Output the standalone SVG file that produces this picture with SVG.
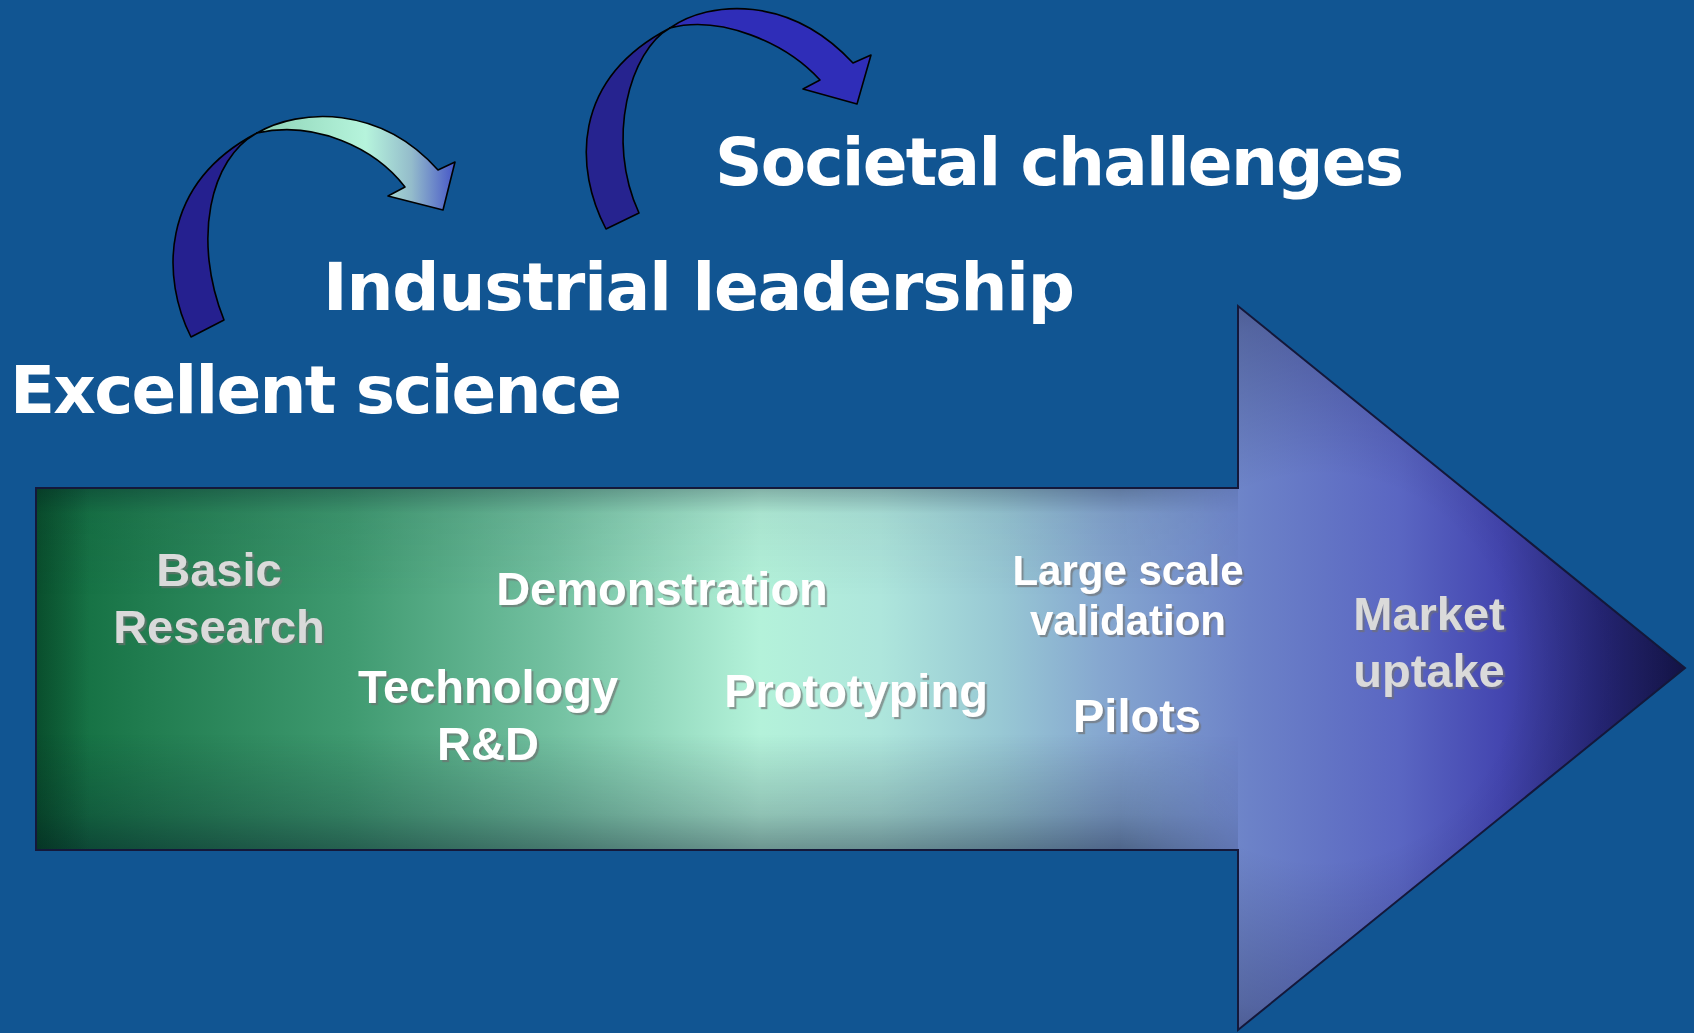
<svg xmlns="http://www.w3.org/2000/svg" width="1694" height="1033" viewBox="0 0 1694 1033">
  <defs>
    <style>
      .title { font-family: "DejaVu Sans", Verdana, sans-serif; font-weight: bold; font-size: 66px; fill: #ffffff; }
      .lbl { font-family: "Liberation Sans", Arial, sans-serif; font-weight: bold; font-size: 47px; text-anchor: middle; filter: url(#shadow); }
      .w { fill: #ffffff; }
      .g { fill: #dadada; }
      .small { font-size: 42px; }
      .ribbon { stroke: #000000; stroke-width: 1.6; stroke-linejoin: round; }
    </style>
    <filter id="shadow" x="-10%" y="-20%" width="120%" height="150%">
      <feDropShadow dx="2.2" dy="2.2" stdDeviation="0.4" flood-color="#6f6f6f" flood-opacity="0.65"/>
    </filter>
    <linearGradient id="bigGrad" gradientUnits="userSpaceOnUse" x1="36" y1="0" x2="1685" y2="0">
      <stop offset="0" stop-color="#0e6a3c"/>
      <stop offset="0.069" stop-color="#217d50"/>
      <stop offset="0.19" stop-color="#3f9a70"/>
      <stop offset="0.312" stop-color="#72c0a0"/>
      <stop offset="0.439" stop-color="#b4f2da"/>
      <stop offset="0.512" stop-color="#aee6dc"/>
      <stop offset="0.585" stop-color="#98c8d4"/>
      <stop offset="0.645" stop-color="#86a8d0"/>
      <stop offset="0.736" stop-color="#6c82c8"/>
      <stop offset="0.827" stop-color="#5a66c2"/>
      <stop offset="0.888" stop-color="#4446b0"/>
      <stop offset="0.948" stop-color="#2a2a80"/>
      <stop offset="1" stop-color="#1a1a55"/>
    </linearGradient>
    <linearGradient id="shaftShade" gradientUnits="userSpaceOnUse" x1="0" y1="488" x2="0" y2="850">
      <stop offset="0" stop-color="#000820" stop-opacity="0.28"/>
      <stop offset="0.07" stop-color="#000820" stop-opacity="0.06"/>
      <stop offset="0.3" stop-color="#000820" stop-opacity="0"/>
      <stop offset="0.68" stop-color="#000820" stop-opacity="0"/>
      <stop offset="0.9" stop-color="#000820" stop-opacity="0.2"/>
      <stop offset="1" stop-color="#000820" stop-opacity="0.4"/>
    </linearGradient>
    <linearGradient id="leftShade" gradientUnits="userSpaceOnUse" x1="36" y1="0" x2="90" y2="0">
      <stop offset="0" stop-color="#001a10" stop-opacity="0.35"/>
      <stop offset="1" stop-color="#001a10" stop-opacity="0"/>
    </linearGradient>
    <linearGradient id="fadeX" gradientUnits="userSpaceOnUse" x1="1120" y1="0" x2="1238" y2="0">
      <stop offset="0" stop-color="#ffffff"/>
      <stop offset="1" stop-color="#ffffff" stop-opacity="0.3"/>
    </linearGradient>
    <mask id="shaftMask">
      <rect x="0" y="0" width="1120" height="1033" fill="#ffffff"/>
      <rect x="1120" y="0" width="118" height="1033" fill="url(#fadeX)"/>
    </mask>
    <radialGradient id="headShade" gradientUnits="userSpaceOnUse" cx="1320" cy="668" r="430">
      <stop offset="0" stop-color="#000018" stop-opacity="0"/>
      <stop offset="0.45" stop-color="#000018" stop-opacity="0"/>
      <stop offset="0.8" stop-color="#000018" stop-opacity="0.22"/>
      <stop offset="1" stop-color="#000018" stop-opacity="0.45"/>
    </radialGradient>
    <clipPath id="arrowClip">
      <path d="M36,488 L1238,488 L1238,306 L1685,668 L1238,1030 L1238,850 L36,850 Z"/>
    </clipPath>
    <linearGradient id="ribbonGrad" gradientUnits="userSpaceOnUse" x1="257" y1="0" x2="455" y2="0">
      <stop offset="0" stop-color="#8dd3b6"/>
      <stop offset="0.55" stop-color="#b6f4dc"/>
      <stop offset="0.78" stop-color="#94bccb"/>
      <stop offset="1" stop-color="#4656c8"/>
    </linearGradient>
  </defs>

  <rect x="0" y="0" width="1694" height="1033" fill="#115592"/>

  <g id="process-arrow">
    <path d="M36,488 L1238,488 L1238,306 L1685,668 L1238,1030 L1238,850 L36,850 Z" fill="url(#bigGrad)"/>
    <g clip-path="url(#arrowClip)">
      <rect x="36" y="488" width="1202" height="362" fill="url(#shaftShade)" mask="url(#shaftMask)"/>
      <rect x="36" y="488" width="60" height="362" fill="url(#leftShade)"/>
      <path d="M1238,306 L1685,668 L1238,1030 Z" fill="url(#headShade)"/>
    </g>
    <path d="M36,488 L1238,488 L1238,306 L1685,668 L1238,1030 L1238,850 L36,850 Z" fill="none" stroke="#14183a" stroke-width="2"/>
  </g>

  <g id="stage-labels">
    <text class="lbl g" x="219" y="586">Basic</text>
    <text class="lbl g" x="219" y="643">Research</text>
    <text class="lbl w" x="662" y="605">Demonstration</text>
    <text class="lbl w" x="488" y="703">Technology</text>
    <text class="lbl w" x="488" y="760">R&amp;D</text>
    <text class="lbl w" x="856" y="707">Prototyping</text>
    <text class="lbl w small" x="1128" y="585">Large scale</text>
    <text class="lbl w small" x="1128" y="635">validation</text>
    <text class="lbl w" x="1137" y="732">Pilots</text>
    <text class="lbl g" x="1429" y="630">Market</text>
    <text class="lbl g" x="1429" y="687">uptake</text>
  </g>

  <g id="connectors">
    <g id="curved-arrow-1">
      <path class="ribbon" fill="#25208f" d="M191,337 C162,280 158,185 257,133 C210,158 192,240 224,320 Z"/>
      <path class="ribbon" fill="url(#ribbonGrad)" d="M257,133 C300,108 380,105 438,170 L455,162 L443,210 L388,196 L405,187 C375,148 315,120 257,133 Z"/>
    </g>
    <g id="curved-arrow-2">
      <path class="ribbon" fill="#26238f" d="M606,229 C575,170 570,80 670,28 C630,50 605,140 639,213 Z"/>
      <path class="ribbon" fill="#2f2db8" d="M670,28 C710,0 790,-5 853,63 L871,55 L857,104 L803,89 L820,80 C785,42 720,15 670,28 Z"/>
    </g>
  </g>

  <g id="pillars">
    <text id="excellent-science" class="title" x="10" y="413" textLength="612">Excellent science</text>
    <text id="industrial-leadership" class="title" x="323" y="310" textLength="752">Industrial leadership</text>
    <text id="societal-challenges" class="title" x="715" y="185" textLength="689">Societal challenges</text>
  </g>
</svg>
